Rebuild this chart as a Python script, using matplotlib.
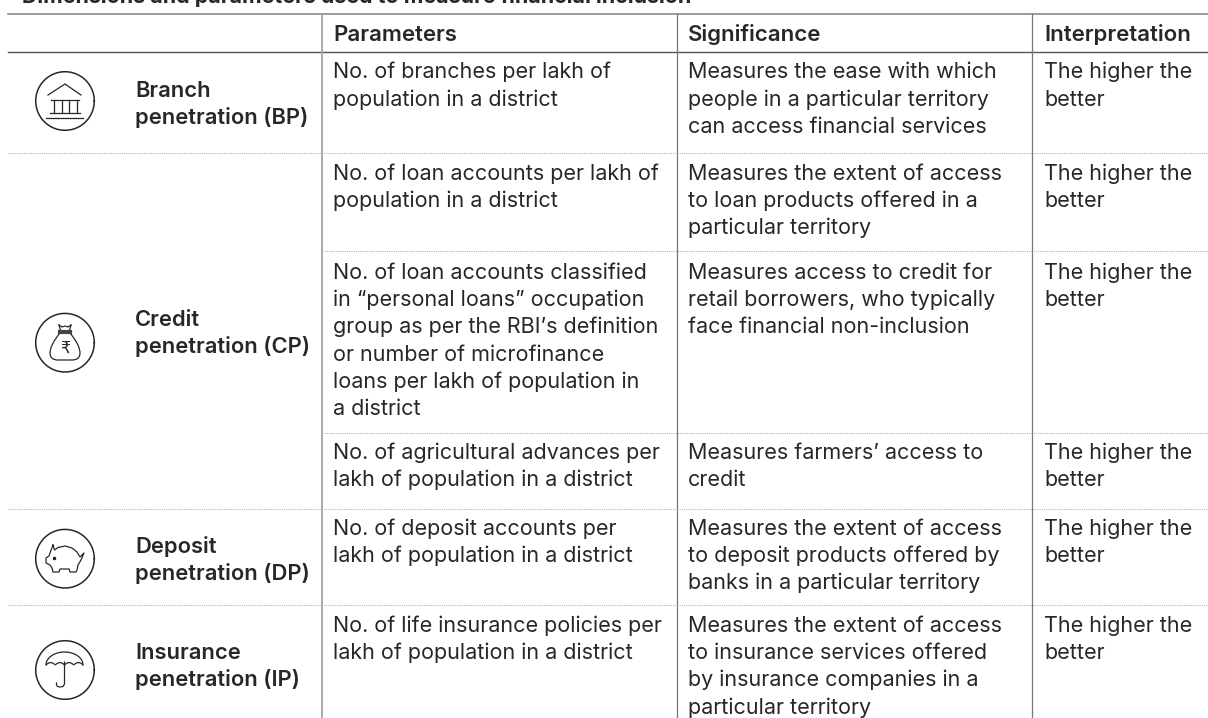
import numpy as np
import matplotlib.pyplot as plt
from matplotlib.path import Path
from matplotlib.patches import PathPatch

plt.rcParams['font.family'] = ['Inter', 'DejaVu Sans']

# Textos de la tabla
titulo = 'Dimensions and parameters used to measure financial inclusion'
encabezados = ['Parameters', 'Significance', 'Interpretation']
dimensiones = ['Branch\npenetration (BP)', 'Credit\npenetration (CP)',
               'Deposit\npenetration (DP)', 'Insurance\npenetration (IP)']
parametros = ['No. of branches per lakh of\npopulation in a district',
              'No. of loan accounts per lakh of\npopulation in a district',
              'No. of loan accounts classified\nin “personal loans” occupation\ngroup as per the RBI’s definition\nor number of microfinance\nloans per lakh of population in\na district',
              'No. of agricultural advances per\nlakh of population in a district',
              'No. of deposit accounts per\nlakh of population in a district',
              'No. of life insurance policies per\nlakh of population in a district']
significado = ['Measures the ease with which\npeople in a particular territory\ncan access financial services',
               'Measures the extent of access\nto loan products offered in a\nparticular territory',
               'Measures access to credit for\nretail borrowers, who typically\nface financial non-inclusion',
               'Measures farmers’ access to\ncredit',
               'Measures the extent of access\nto deposit products offered by\nbanks in a particular territory',
               'Measures the extent of access\nto insurance services offered\nby insurance companies in a\nparticular territory']
interpretacion = ['The higher the\nbetter'] * 6

# Posiciones en pixeles
filas_y = [78.5, 180, 279, 459, 535, 632]
dim_y = [97, 326, 553, 659]
sep_todo = [153, 509, 605]
sep_col = [251.3, 432.5]
txt_x = [333, 688, 1044]
color = '#2b2626'
paso = 27.2
tam = 15.5


def bloque(x, y, texto, **kw):
    # Una linea de texto por renglon, con paso fijo
    for i, linea in enumerate(texto.split('\n')):
        ax.text(x, y + i*paso, linea, color=color, va='baseline', **kw)


def trazo(verts, codes, lw=0.9):
    ax.add_patch(PathPatch(Path(verts, codes), fc='none', ec=color, lw=lw))


fig = plt.figure(figsize=(12.08, 7.18), dpi=100)
ax = fig.add_axes([0, 0, 1, 1])
ax.set_xlim(0, 1208)
ax.set_ylim(718, 0)
ax.axis('off')

ax.text(22, 3, titulo, fontsize=15.4, fontweight='bold', color=color, va='baseline')

# Lineas
ax.plot([8, 1208], [13.7, 13.7], color='#808080', lw=1.1)
ax.plot([8, 1208], [51.7, 51.7], color='#555555', lw=1.0)
ax.plot([322, 322], [14, 718], color='#a5a5a5', lw=1.3)
ax.plot([677, 677], [14, 718], color='#777777', lw=0.9)
ax.plot([1032, 1032], [14, 718], color='#777777', lw=0.9)
for y in sep_todo:
    ax.plot([8, 1208], [y, y], color='#b5b5b5', lw=0.8, ls=(0, (1, 1)))
for y in sep_col:
    ax.plot([322, 1208], [y, y], color='#b5b5b5', lw=0.8, ls=(0, (1, 1)))

# Encabezados
for x, t in zip(txt_x, encabezados):
    ax.text(x, 40.7, t, fontsize=16, fontweight='semibold', color=color, va='baseline')

# Dimensiones
for y, t in zip(dim_y, dimensiones):
    bloque(135, y, t, fontsize=15.8, fontweight='semibold')

# Celdas
for y, p, s, i in zip(filas_y, parametros, significado, interpretacion):
    bloque(txt_x[0], y, p, fontsize=tam)
    bloque(txt_x[1], y, s, fontsize=tam)
    bloque(txt_x[2], y, i, fontsize=tam)

# Iconos
t = np.linspace(0, 2*np.pi, 200)
for cy in [101, 342.7, 558.7, 670]:
    ax.plot(65 + 29.3*np.cos(t), cy + 29.3*np.sin(t), color=color, lw=1.1)

# banco
ax.plot([48, 65, 81], [95, 84, 95], color=color, lw=0.9)
ax.plot([51, 79], [99.5, 99.5], color=color, lw=0.9)
ax.plot([50, 80], [112.7, 112.7], color=color, lw=0.9)
ax.plot([46, 83], [118, 118], color=color, lw=0.9)
for x in [54, 62, 69, 77]:
    ax.plot([x, x], [99.5, 112.7], color=color, lw=0.9)

# bolsa
C3 = Path.CURVE3
M = Path.MOVETO
L = Path.LINETO
trazo([(60, 333), (50, 345), (50, 353), (50, 360), (58, 360), (72, 360),
       (80, 360), (80, 353), (80, 345), (70, 333)],
      [M, C3, C3, C3, C3, L, C3, C3, C3, C3])
ax.plot([59, 62, 65, 68, 71], [325, 327, 326, 327, 325], color=color, lw=0.9)
ax.plot([59, 61], [325, 332], color=color, lw=0.9)
ax.plot([71, 69], [325, 332], color=color, lw=0.9)
ax.plot([60, 70], [331.5, 331.5], color='#444444', lw=3)
ax.text(65, 349, '₹', fontsize=11.5, family='DejaVu Sans', color=color, ha='center', va='center')

# cerdo
ax.plot([53, 54.5, 58, 65, 72, 77, 80, 81, 84, 81, 78, 77, 76, 70, 69, 60, 59, 53, 52, 50,
         46, 46, 49, 50, 53],
        [545, 550, 547.5, 546, 548, 552, 557, 556, 553, 560, 565, 570, 572, 572, 569, 569, 572, 572, 568, 565,
         563, 558, 556, 553, 545], color=color, lw=0.9)
ax.plot([54], [557.7], marker='o', ms=1.6, color=color)

# paraguas
u = np.linspace(np.pi, 2*np.pi, 40)
ax.plot(64.5 + 18.5*np.cos(u), 665 + 13*np.sin(u), color=color, lw=0.9)
for x0 in [46, 55.25, 64.5, 73.75]:
    trazo([(x0, 665), (x0 + 4.6, 660), (x0 + 9.25, 665)], [M, C3, C3])
ax.plot([64.5, 64.5, 63, 60, 57.5, 56.5, 56.5], [662, 684, 686.5, 687, 686.5, 685, 683], color=color, lw=0.9)

fig.savefig('out.png', dpi=100)
